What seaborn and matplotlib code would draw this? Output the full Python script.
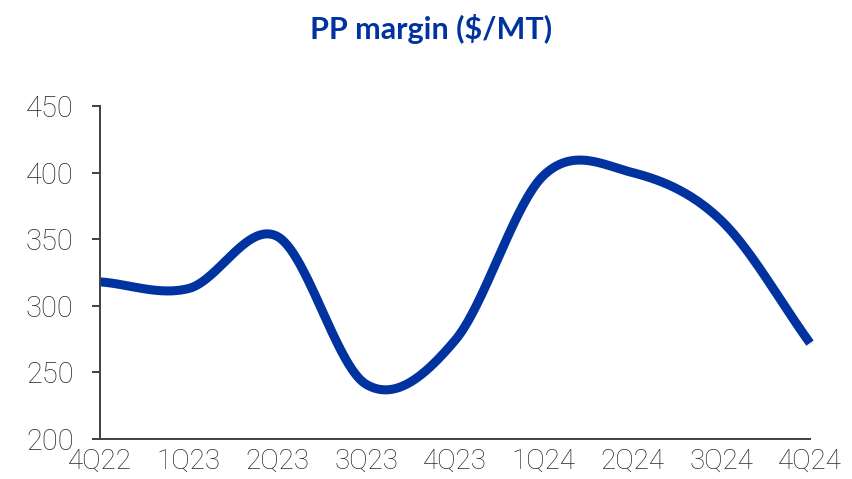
import numpy as np
import pandas as pd
import matplotlib
matplotlib.use("Agg")
import matplotlib.pyplot as plt
import seaborn as sns

# ---- data ----
quarters = ["4Q22", "1Q23", "2Q23", "3Q23", "4Q23", "1Q24", "2Q24", "3Q24", "4Q24"]
pp_margin = [318, 313, 352, 241, 274, 398, 400, 364, 272]
y_ticks = [200, 250, 300, 350, 400, 450]
title = "PP margin ($/MT)"

LINE = "#0033A0"
AXIS = "#404040"


def smooth_curve(values, steps=60):
    """Catmull-Rom smoothing (like a spreadsheet 'smoothed line')."""
    v = np.asarray(values, dtype=float)
    n = len(v)
    xs, ys = [], []
    for i in range(n - 1):
        p0 = v[i - 1] if i > 0 else v[i]
        p1, p2 = v[i], v[i + 1]
        p3 = v[i + 2] if i + 2 < n else v[i + 1]
        m1 = (p2 - p0) / (2 if i > 0 else 1)
        m2 = (p3 - p1) / (2 if i + 2 < n else 1)
        t = np.linspace(0, 1, steps, endpoint=(i == n - 2))
        h00 = 2 * t**3 - 3 * t**2 + 1
        h10 = t**3 - 2 * t**2 + t
        h01 = -2 * t**3 + 3 * t**2
        h11 = t**3 - t**2
        xs.append(i + t)
        ys.append(h00 * p1 + h10 * m1 + h01 * p2 + h11 * m2)
    return np.concatenate(xs), np.concatenate(ys)


sx, sy = smooth_curve(pp_margin)
df = pd.DataFrame({"x": sx, "margin": sy})

sns.set_theme(style="white")
plt.rcParams["font.family"] = ["Roboto", "DejaVu Sans"]

fig = plt.figure(figsize=(8.53, 4.79), dpi=100)
ax = fig.add_axes([100 / 853, 1 - 439 / 479, 710 / 853, 333 / 479])

sns.lineplot(data=df, x="x", y="margin", ax=ax, color=LINE, linewidth=6.5,
             sort=False, estimator=None)
for ln in ax.get_lines():
    ln.set_clip_on(False)
    ln.set_solid_capstyle("butt")
    ln.set_solid_joinstyle("round")

ax.set_xlim(0, len(quarters) - 1)
ax.set_ylim(y_ticks[0], y_ticks[-1])
ax.set_xticks(range(len(quarters)))
ax.set_xticklabels(quarters)
ax.set_yticks(y_ticks)
ax.set_xlabel("")
ax.set_ylabel("")

for s in ["top", "right"]:
    ax.spines[s].set_visible(False)
for s in ["left", "bottom"]:
    ax.spines[s].set_color(AXIS)
    ax.spines[s].set_linewidth(1.4)

ax.tick_params(axis="y", which="major", length=6, width=1.4, color=AXIS,
               direction="out", pad=13, labelsize=21, labelcolor="#2a2a2a", left=True)
ax.tick_params(axis="x", which="major", length=0, pad=6, labelsize=20,
               labelcolor="#2a2a2a", bottom=False)
for lab in ax.get_xticklabels() + ax.get_yticklabels():
    lab.set_fontweight("light")

fig.text(431 / 853, 1 - 29 / 479, title, ha="center", va="center",
         fontsize=22, fontweight="bold", color=LINE,
         family=["Lato", "DejaVu Sans"])

fig.savefig("out.png", dpi=100)
